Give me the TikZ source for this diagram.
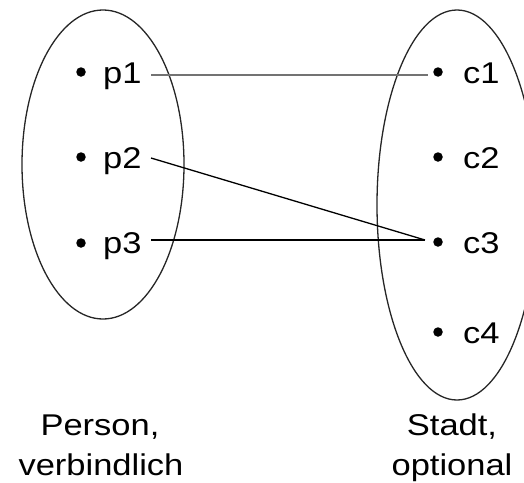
\documentclass[tikz,border=0pt]{standalone}
\usepackage{fontspec}
\setmainfont{Liberation Sans}[FakeStretch=1.15]
\begin{document}
\begin{tikzpicture}[x=1pt,y=1pt,
  setshape/.style={draw=black!85,line width=1.3pt},
  dotmark/.style={circle,fill=black,inner sep=0pt,minimum size=9.5pt},
  lbl/.style={anchor=base west,inner sep=0pt,font=\fontsize{30}{36}\selectfont},
  captext/.style={anchor=base,inner sep=0pt,font=\fontsize{30}{36}\selectfont},
  link/.style={line width=1.3pt,black},
  graylink/.style={line width=1.3pt,black!55}]
\useasboundingbox (0,0) rectangle (524,-482);
% sets
\draw[setshape] (103,-164.5) ellipse [x radius=81, y radius=154.5];
\draw[setshape] (457,-205) ellipse [x radius=80, y radius=195];
% left elements
\node[dotmark] (p1d) at (81,-72) {};
\node[dotmark] (p2d) at (81,-157) {};
\node[dotmark] (p3d) at (81,-243) {};
\node[lbl] (p1) at (103,-83) {p1};
\node[lbl] (p2) at (103,-168) {p2};
\node[lbl] (p3) at (103,-253) {p3};
% right elements
\node[dotmark] (c1d) at (438,-72) {};
\node[dotmark] (c2d) at (438,-157) {};
\node[dotmark] (c3d) at (438,-242) {};
\node[dotmark] (c4d) at (438,-332) {};
\node[lbl] (c1) at (463,-83) {c1};
\node[lbl] (c2) at (463,-168) {c2};
\node[lbl] (c3) at (463,-253) {c3};
\node[lbl] (c4) at (463,-343) {c4};
% connector ends
\coordinate (p1out) at (151,-75);
\coordinate (p2out) at (151,-158);
\coordinate (p3out) at (151,-240);
\coordinate (c1in) at (428,-75);
\coordinate (c3in) at (425,-240);
\draw[graylink] (p1out) -- (c1in);
\draw[link] (p2out) -- (c3in);
\draw[link] (p3out) -- (c3in);
% captions
\node[captext] (capl1) at (100,-435) {Person,};
\node[captext] (capl2) at (101,-475) {verbindlich};
\node[captext] (capr1) at (452,-435) {Stadt,};
\node[captext] (capr2) at (452,-475) {optional};
\end{tikzpicture}
\end{document}
